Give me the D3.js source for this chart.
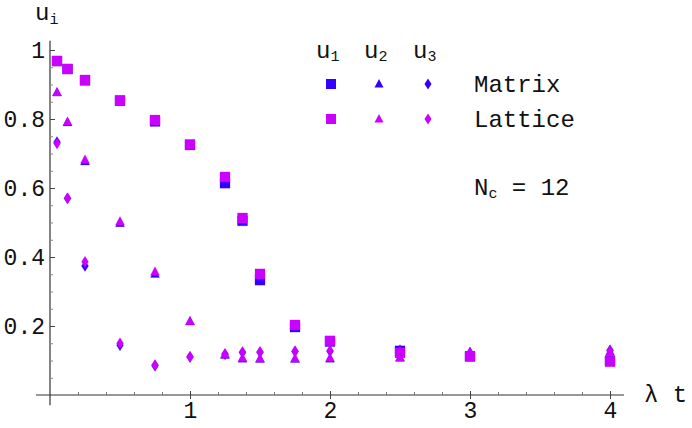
<!DOCTYPE html>
<html>
<head>
<meta charset="utf-8">
<script src="https://cdn.jsdelivr.net/npm/d3@7"></script>
<style>
  body { margin: 0; background: #fff; }
  svg { display: block; }
  text { font-family: "Liberation Mono", "DejaVu Sans Mono", monospace; fill: #111; }
</style>
</head>
<body>
<svg id="chart" width="692" height="428"></svg>
<script>
// time values (lambda t)
const times = [0.05, 0.125, 0.25, 0.5, 0.75, 1, 1.25, 1.375, 1.5, 1.75, 2, 2.5, 3, 4];

// Matrix results
const matrixU1 = [0.968, 0.945, 0.912, 0.853, 0.793, 0.725, 0.614, 0.505, 0.333, 0.197, 0.155, 0.128, 0.112, 0.098];
const matrixU2 = [0.877, 0.790, 0.677, 0.498, 0.351, 0.213, 0.116, 0.105, 0.104, 0.104, 0.105, 0.108, 0.124, 0.125];
const matrixU3 = [0.733, 0.570, 0.374, 0.144, 0.085, 0.110, 0.118, 0.123, 0.124, 0.126, 0.127, 0.130, 0.122, 0.130];

// Lattice results
const latticeU1 = [0.968, 0.945, 0.913, 0.854, 0.797, 0.726, 0.632, 0.513, 0.351, 0.203, 0.157, 0.122, 0.112, 0.097];
const latticeU2 = [0.877, 0.792, 0.682, 0.503, 0.357, 0.214, 0.118, 0.107, 0.106, 0.106, 0.107, 0.108, 0.125, 0.125];
const latticeU3 = [0.729, 0.570, 0.386, 0.150, 0.087, 0.111, 0.119, 0.125, 0.125, 0.127, 0.128, 0.125, 0.120, 0.128];

const xMajor = [1, 2, 3, 4];
const yMajor = [0.2, 0.4, 0.6, 0.8, 1];

const colors = { matrix: '#3300ff', lattice: '#cc00ff' };

const svg = d3.select('#chart');

const x = d3.scaleLinear().domain([0, 4]).range([50, 610]);
const y = d3.scaleLinear().domain([0, 1]).range([395, 50]);

// marker paths centred on 0,0
const shapes = {
  square: 'M-5,-5H5V5H-5Z',
  triangle: 'M0,-5L4.5,3.5H-4.5Z',
  diamond: 'M0,-5.5L3.5,0L0,5.5L-3.5,0Z',
};

// axis lines
svg.append('line')
  .attr('x1', x(-0.1)).attr('x2', x(4.1))
  .attr('y1', y(0)).attr('y2', y(0))
  .attr('stroke', '#333').attr('stroke-width', 1.2);
svg.append('line')
  .attr('x1', x(0)).attr('x2', x(0))
  .attr('y1', y(-0.03)).attr('y2', y(1.027))
  .attr('stroke', '#333').attr('stroke-width', 1.2);

// x ticks
const xMinor = d3.range(1, 21).map(i => i * 0.2).filter(v => !xMajor.some(m => Math.abs(m - v) < 1e-6));
const xAxis = svg.append('g')
  .attr('transform', `translate(0,${y(0)})`)
  .call(d3.axisBottom(x).tickValues(xMajor).tickSizeInner(-4).tickSizeOuter(0).tickFormat(d3.format('d')));
xAxis.select('.domain').remove();
xAxis.selectAll('.tick line').attr('y1', 4).attr('stroke', '#444');
xAxis.selectAll('.tick text')
  .attr('y', 23).attr('dy', null)
  .style('font-family', '"Liberation Mono", monospace')
  .style('font-size', '23px').attr('fill', '#111');

const xMinorAxis = svg.append('g')
  .attr('transform', `translate(0,${y(0)})`)
  .call(d3.axisBottom(x).tickValues(xMinor).tickSizeInner(-3).tickSizeOuter(0).tickFormat(''));
xMinorAxis.select('.domain').remove();
xMinorAxis.selectAll('.tick line').attr('stroke', '#777');

// y ticks
const yMinor = d3.range(1, 21).map(i => i * 0.05).filter(v => !yMajor.some(m => Math.abs(m - v) < 1e-6));
const yAxis = svg.append('g')
  .attr('transform', `translate(${x(0)},0)`)
  .call(d3.axisLeft(y).tickValues(yMajor).tickSizeInner(-5).tickSizeOuter(0).tickFormat(d => d === 1 ? '1' : d3.format('.1f')(d)));
yAxis.select('.domain').remove();
yAxis.selectAll('.tick line').attr('stroke', '#444');
yAxis.selectAll('.tick text')
  .attr('x', -5)
  .style('font-family', '"Liberation Mono", monospace')
  .style('font-size', '23px').attr('fill', '#111');

const yMinorAxis = svg.append('g')
  .attr('transform', `translate(${x(0)},0)`)
  .call(d3.axisLeft(y).tickValues(yMinor).tickSizeInner(-3).tickSizeOuter(0).tickFormat(''));
yMinorAxis.select('.domain').remove();
yMinorAxis.selectAll('.tick line').attr('stroke', '#888');

// axis labels
const yLab = svg.append('text').attr('x', 35).attr('y', 20).style('font-size', '24px');
yLab.append('tspan').text('u');
yLab.append('tspan').attr('dy', 4).style('font-size', '15px').text('i');

svg.append('text').attr('x', 644).attr('y', 402).style('font-size', '24px').text('λ t');

// data series
const series = [
  { set: 'matrix', shape: 'square', values: matrixU1 },
  { set: 'matrix', shape: 'triangle', values: matrixU2 },
  { set: 'matrix', shape: 'diamond', values: matrixU3 },
  { set: 'lattice', shape: 'square', values: latticeU1 },
  { set: 'lattice', shape: 'triangle', values: latticeU2 },
  { set: 'lattice', shape: 'diamond', values: latticeU3 },
];

series.forEach((s) => {
  svg.append('g')
    .selectAll('path')
    .data(times.map((t, i) => ({ t, v: s.values[i] })))
    .join('path')
    .attr('d', shapes[s.shape])
    .attr('transform', d => `translate(${x(d.t)},${y(d.v)})`)
    .attr('fill', colors[s.set])
    .attr('stroke', colors[s.set])
    .attr('stroke-opacity', 0.25)
    .attr('stroke-width', 1);
});

// legend
const legendCols = [331, 379, 428];
const legendShapes = ['square', 'triangle', 'diamond'];
const legendHead = ['1', '2', '3'];
const legendRows = [{ set: 'matrix', label: 'Matrix', y: 84 }, { set: 'lattice', label: 'Lattice', y: 119 }];

legendCols.forEach((cx, i) => {
  const t = svg.append('text').attr('x', cx - 15).attr('y', 58).style('font-size', '24px');
  t.append('tspan').text('u');
  t.append('tspan').attr('dy', 3).style('font-size', '15px').text(legendHead[i]);
});

legendRows.forEach((r) => {
  legendCols.forEach((cx, i) => {
    svg.append('path')
      .attr('d', shapes[legendShapes[i]])
      .attr('transform', `translate(${cx},${r.y})`)
      .attr('fill', colors[r.set]);
  });
  svg.append('text').attr('x', 474).attr('y', r.y + 8).style('font-size', '24px').text(r.label);
});

const nc = svg.append('text').attr('x', 474).attr('y', 195).style('font-size', '24px');
nc.append('tspan').text('N');
nc.append('tspan').attr('dy', 3).style('font-size', '15px').text('c');
nc.append('tspan').attr('dy', -3).text(' = 12');
</script>
</body>
</html>
